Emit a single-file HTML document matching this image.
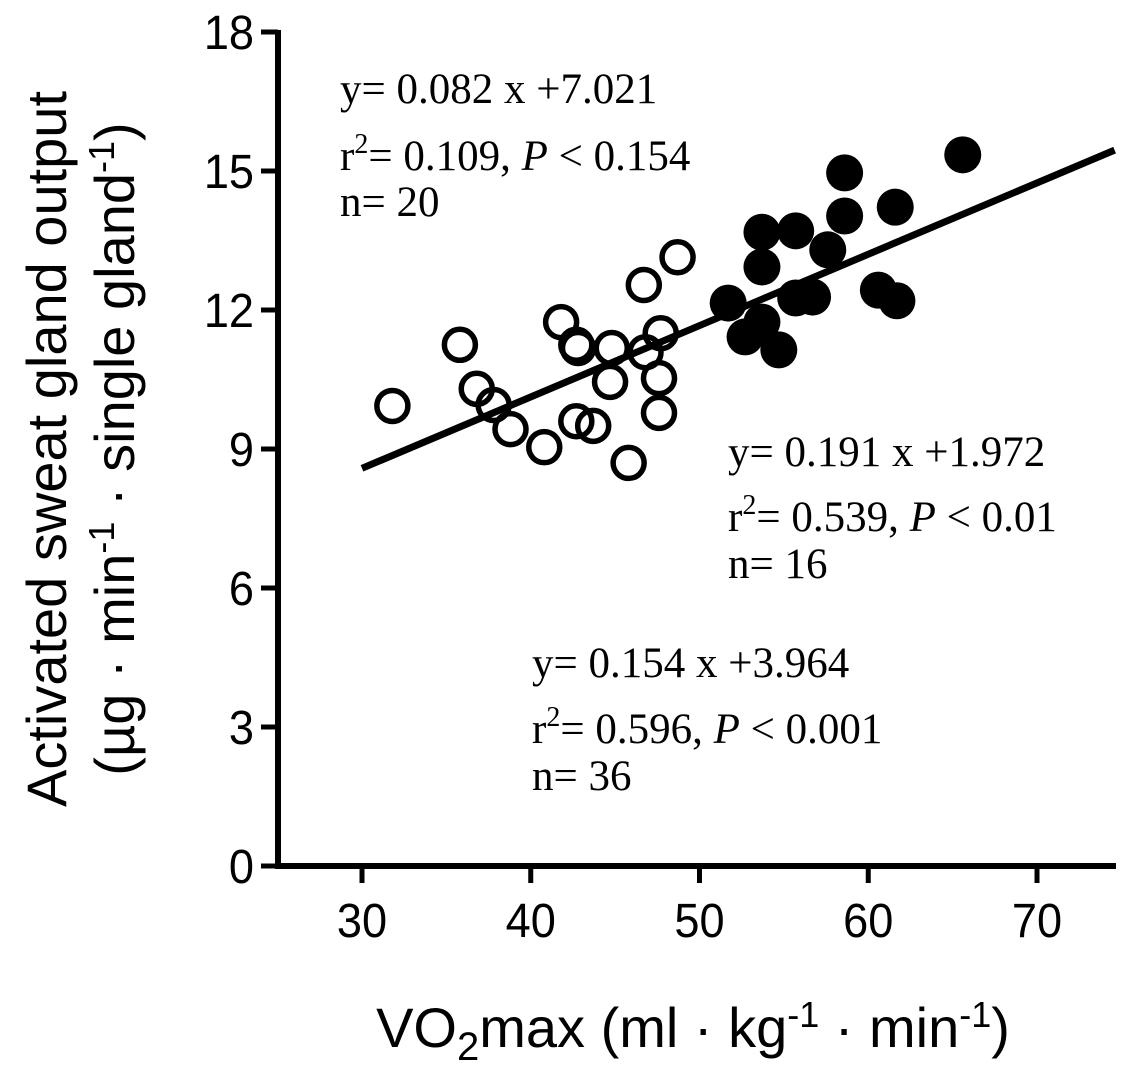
<!DOCTYPE html>
<html><head><meta charset="utf-8"><style>
body{margin:0;background:#fff}
svg text{fill:#000}
.tk{font-family:"Liberation Sans",sans-serif;font-size:48px}
.an{font-family:"Liberation Serif",serif;font-size:43px}
.tt{font-family:"Liberation Sans",sans-serif;font-size:56px}
</style></head><body>
<svg id="chart" width="1128" height="1074" xmlns="http://www.w3.org/2000/svg">
<g id="axes"></g><g id="marks"></g>
<g>
<text class="an" x="340" y="103">y= 0.082 x +7.021</text>
<text class="an" x="340" y="170">r<tspan dy="-17" font-size="28">2</tspan><tspan dy="17">= 0.109, </tspan><tspan font-style="italic">P</tspan> &lt; 0.154</text>
<text class="an" x="340" y="216">n= 20</text>
<text class="an" x="728" y="466">y= 0.191 x +1.972</text>
<text class="an" x="728" y="531">r<tspan dy="-17" font-size="28">2</tspan><tspan dy="17">= 0.539, </tspan><tspan font-style="italic">P</tspan> &lt; 0.01</text>
<text class="an" x="728" y="578">n= 16</text>
<text class="an" x="532" y="677">y= 0.154 x +3.964</text>
<text class="an" x="532" y="743">r<tspan dy="-17" font-size="28">2</tspan><tspan dy="17">= 0.596, </tspan><tspan font-style="italic">P</tspan> &lt; 0.001</text>
<text class="an" x="532" y="790">n= 36</text>
</g>
<text class="tt" transform="translate(66,449) rotate(-90)" text-anchor="middle">Activated sweat gland output</text>
<text class="tt" transform="translate(134,449) rotate(-90)" text-anchor="middle">(µg · min<tspan dy="-20" font-size="36">-1</tspan><tspan dy="20"> · single gland</tspan><tspan dy="-20" font-size="36">-1</tspan><tspan dy="20">)</tspan></text>
<text class="tt" x="693" y="1047" text-anchor="middle">VO<tspan dy="13" font-size="40">2</tspan><tspan dy="-13">max (ml · kg</tspan><tspan dy="-20" font-size="36">-1</tspan><tspan dy="20"> · min</tspan><tspan dy="-20" font-size="36">-1</tspan><tspan dy="20">)</tspan></text>
</svg>
<script>
const xTicks=[30,40,50,60,70];
const yTicks=[0,3,6,9,12,15,18];
const openX=[31.8,35.8,36.8,37.8,38.8,40.8,41.8,42.7,42.8,42.7,43.7,44.8,44.7,45.8,46.7,46.8,47.7,47.6,47.6,48.7];
const openY=[9.93,11.25,10.30,9.95,9.43,9.04,11.74,11.25,11.18,9.60,9.50,11.18,10.45,8.70,12.54,11.09,11.50,10.53,9.78,13.14];
const filledX=[51.7,53.7,53.7,55.7,57.6,58.6,58.6,61.6,65.6,60.6,61.7,55.7,56.7,53.7,52.7,54.7];
const filledY=[12.15,13.68,12.93,13.71,13.30,14.96,14.03,14.22,15.35,12.43,12.20,12.26,12.28,11.74,11.42,11.14];
const fitSlope=0.154, fitIntercept=3.964, fitRange=[30,74.6];
const NS="http://www.w3.org/2000/svg";
const sx=v=>362+(v-30)*16.875;
const sy=v=>866-v*46.33;
function mk(tag,attrs,parent){const e=document.createElementNS(NS,tag);for(const k in attrs)e.setAttribute(k,attrs[k]);parent.appendChild(e);return e;}
const ax=document.getElementById('axes'), mg=document.getElementById('marks');
let l=mk('line',{x1:278,y1:30,x2:278,y2:869,stroke:'#000','stroke-width':6},ax);


l=mk('line',{x1:275,y1:866,x2:1116,y2:866,stroke:'#000','stroke-width':6},ax);


yTicks.forEach(t=>{
 const e=mk('line',{x1:261,y1:sy(t),x2:278,y2:sy(t),stroke:'#000','stroke-width':5},ax);
 
 
 const tx=mk('text',{transform:'translate(254,'+(sy(t)+17)+') scale(0.94,1)','text-anchor':'end',class:'tk'},ax);tx.textContent=t;
 
 
});
xTicks.forEach(t=>{
 const e=mk('line',{x1:sx(t),y1:866,x2:sx(t),y2:883,stroke:'#000','stroke-width':5},ax);
 
 
 const tx=mk('text',{transform:'translate('+sx(t)+',937) scale(0.94,1)','text-anchor':'middle',class:'tk'},ax);tx.textContent=t;
 
 
});
const fl=mk('line',{x1:sx(fitRange[0]),y1:sy(fitSlope*fitRange[0]+fitIntercept),x2:sx(fitRange[1]),y2:sy(fitSlope*fitRange[1]+fitIntercept),stroke:'#000','stroke-width':7},mg);


openX.forEach((x,i)=>{
 const c=mk('circle',{cx:sx(x),cy:sy(openY[i]),r:15.5,fill:'none',stroke:'#000','stroke-width':5.5},mg);
 
 
});
filledX.forEach((x,i)=>{
 const c=mk('circle',{cx:sx(x),cy:sy(filledY[i]),r:18.5,fill:'#000'},mg);
 
 
});
</script>
</body></html>
